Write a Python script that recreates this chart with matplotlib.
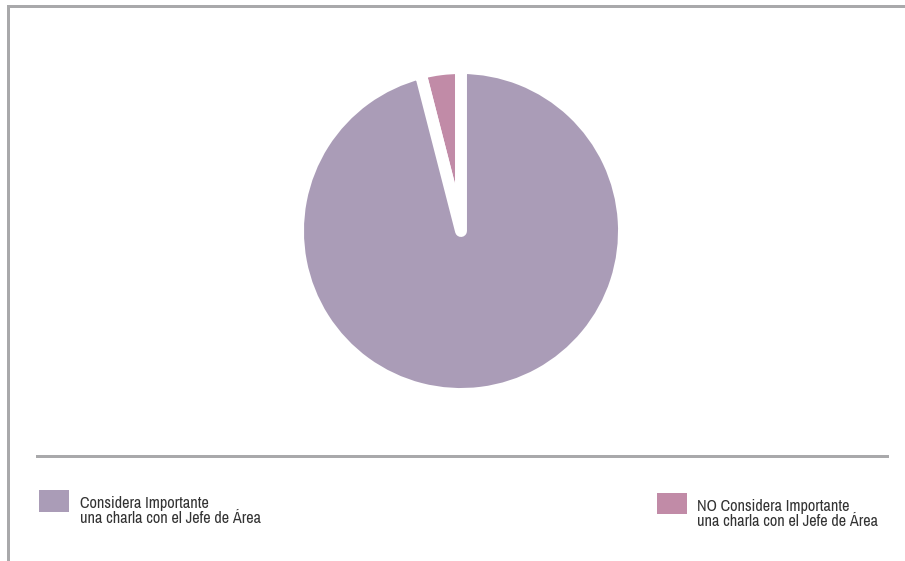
import matplotlib
matplotlib.use("Agg")
import matplotlib.pyplot as plt
from matplotlib import font_manager
from matplotlib.patches import Rectangle

# data
labels = ["NO Considera Importante\nuna charla con el Jefe de Área",
          "Considera Importante\nuna charla con el Jefe de Área"]
values = [4, 96]
colors = ["#C18BA7", "#AA9CB7"]
gray = "#A9A9AB"

# pick a narrow font if one is installed
names = sorted({f.name for f in font_manager.fontManager.ttflist})
narrow = [n for n in names if "Narrow" in n or "Condensed" in n]
family = (narrow[:1] or ["Roboto"]) + ["DejaVu Sans"]
plt.rcParams["font.family"] = family

W, H = 905, 561
fig = plt.figure(figsize=(W / 100, H / 100), dpi=100)

# background layer in pixel coordinates
bg = fig.add_axes([0, 0, 1, 1])
bg.set_xlim(0, W)
bg.set_ylim(H, 0)
bg.axis("off")

# frame and separator
bg.add_patch(Rectangle((7, 5), W - 7, 3, color=gray, lw=0))
bg.add_patch(Rectangle((7, 5), 3, H - 5, color=gray, lw=0))
bg.add_patch(Rectangle((36, 455), 853, 3, color=gray, lw=0))

# legend
fs = 11.7 if narrow else 8.8
bg.add_patch(Rectangle((39, 490), 30, 22, color=colors[1], lw=0))
bg.text(80, 511, labels[1], fontsize=fs, color="#333333", va="center", linespacing=0.98)
bg.add_patch(Rectangle((657, 493), 30, 21, color=colors[0], lw=0))
bg.text(697, 514, labels[0], fontsize=fs, color="#333333", va="center", linespacing=0.98)

# pie
cx, cy, half = 461, 231, 200
ax = fig.add_axes([(cx - half) / W, (H - cy - half) / H, 2 * half / W, 2 * half / H])
ax.pie(values, colors=colors, startangle=90, radius=163,
       wedgeprops=dict(edgecolor="white", linewidth=8.6, joinstyle="round"))
ax.set_xlim(-half, half)
ax.set_ylim(-half, half)
ax.set_aspect("equal")
ax.axis("off")

fig.savefig("out.png", dpi=100)
